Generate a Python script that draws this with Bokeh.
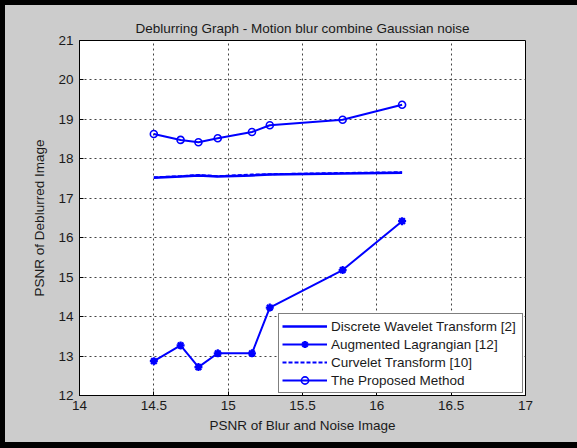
from bokeh.plotting import figure
from bokeh.layouts import column
from bokeh.models import FixedTicker, Legend, LegendItem
from bokeh.embed import file_html
from bokeh.resources import INLINE

# PSNR of the blurred + noisy input images
x_psnr = [14.5, 14.68, 14.8, 14.93, 15.16, 15.28, 15.77, 16.17]

# PSNR of the deblurred images, per method
dwt = [17.52, 17.55, 17.58, 17.55, 17.58, 17.60, 17.63, 17.65]
aug_lagrangian = [12.87, 13.27, 12.72, 13.07, 13.07, 14.23, 15.18, 16.42]
curvelet = [17.53, 17.56, 17.59, 17.56, 17.60, 17.61, 17.64, 17.66]
proposed = [18.63, 18.48, 18.42, 18.52, 18.68, 18.85, 18.99, 19.37]

series_names = [
    "Discrete Wavelet Transform [2]",
    "Augmented Lagrangian [12]",
    "Curvelet Transform [10]",
    "The Proposed Method",
]

x_ticks = [14, 14.5, 15, 15.5, 16, 16.5, 17]
x_tick_labels = ["14", "14.5", "15", "15.5", "16", "16.5", "17"]
y_ticks = [12, 13, 14, 15, 16, 17, 18, 19, 20, 21]

FONT = "Liberation Sans"
FS = "13.5px"
BLUE = "#0000ff"
GREY = "#cccccc"

p = figure(
    width=572, height=437,
    x_range=(14, 17), y_range=(12, 21),
    output_backend="svg", toolbar_location=None,
    min_border_left=74, min_border_right=52,
    min_border_top=35, min_border_bottom=47,
    border_fill_color=GREY, background_fill_color="white",
    title="Deblurring Graph - Motion blur combine Gaussian noise",
)
p.outline_line_color = "black"
p.outline_line_width = 1

p.title.align = "center"
p.title.text_font = FONT
p.title.text_font_size = FS
p.title.text_font_style = "normal"
p.title.text_color = "#1a1a1a"

# axes
p.xaxis.ticker = FixedTicker(ticks=x_ticks)
p.xaxis.major_label_overrides = {t: s for t, s in zip(x_ticks, x_tick_labels)}
p.yaxis.ticker = FixedTicker(ticks=y_ticks)
p.xaxis.axis_label = "PSNR of Blur and Noise Image"
p.yaxis.axis_label = "PSNR of Deblurred Image"
for ax in (p.xaxis, p.yaxis):
    ax.minor_tick_line_color = None
    ax.major_tick_in = 4
    ax.major_tick_out = 0
    ax.axis_line_color = "black"
    ax.major_tick_line_color = "black"
    ax.major_label_text_font = FONT
    ax.major_label_text_font_size = FS
    ax.major_label_text_color = "#1a1a1a"
    ax.axis_label_text_font = FONT
    ax.axis_label_text_font_size = FS
    ax.axis_label_text_font_style = "normal"
    ax.axis_label_text_color = "#1a1a1a"
p.xaxis.major_label_standoff = 5
p.xaxis.axis_label_standoff = 5
p.yaxis.major_label_standoff = 6
p.yaxis.axis_label_standoff = 8

# dotted grid on interior ticks only
p.xgrid.ticker = FixedTicker(ticks=x_ticks[1:-1])
p.ygrid.ticker = FixedTicker(ticks=y_ticks[1:-1])
for g in (p.xgrid, p.ygrid):
    g.grid_line_color = "#444444"
    g.grid_line_dash = "2 3"
    g.grid_line_width = 1

# series
r_dwt = p.line(x_psnr, dwt, line_color=BLUE, line_width=2.5)

r_al = p.line(x_psnr, aug_lagrangian, line_color=BLUE, line_width=2)
r_al_m = p.scatter(x_psnr, aug_lagrangian, marker="asterisk", size=8,
                   line_color=BLUE, line_width=2.2)

r_cur = p.line(x_psnr, curvelet, line_color=BLUE, line_width=2, line_dash="4 2")

r_pro = p.line(x_psnr, proposed, line_color=BLUE, line_width=2)
r_pro_m = p.scatter(x_psnr, proposed, marker="circle", size=7,
                    line_color=BLUE, line_width=1.6, fill_color=None)

legend = Legend(
    items=[
        LegendItem(label=series_names[0], renderers=[r_dwt]),
        LegendItem(label=series_names[1], renderers=[r_al, r_al_m]),
        LegendItem(label=series_names[2], renderers=[r_cur]),
        LegendItem(label=series_names[3], renderers=[r_pro, r_pro_m]),
    ],
    location="bottom_right",
    margin=2,
    padding=3,
    spacing=0,
    glyph_width=45,
    glyph_height=18,
    label_height=18,
    label_width=188,
    label_standoff=4,
    label_text_font=FONT,
    label_text_font_size=FS,
    label_text_color="#1a1a1a",
    border_line_color="black",
    border_line_width=1,
    background_fill_color="white",
    background_fill_alpha=1.0,
)
p.add_layout(legend)

page = column(
    p,
    width=577, height=448,
    styles={
        "background-color": GREY,
        "border-left": "5px solid #000000",
        "border-top": "5px solid #000000",
        "border-bottom": "6px solid #000000",
        "box-sizing": "border-box",
    },
)

open("out.html", "w").write(file_html(page, INLINE))
